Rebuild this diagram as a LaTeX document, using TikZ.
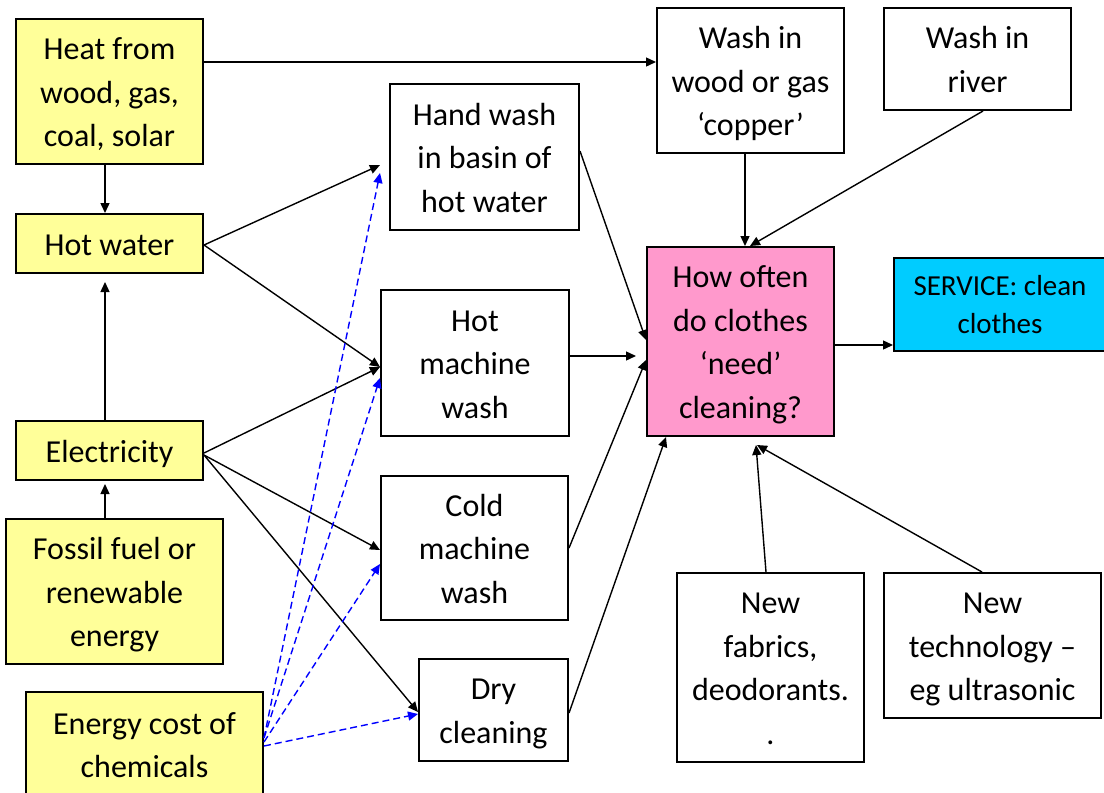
\documentclass[tikz,border=0pt]{standalone}
\usepackage{fontspec}
\setmainfont{Carlito}
\usetikzlibrary{arrows.meta}
\definecolor{boxyellow}{RGB}{255,255,153}
\definecolor{boxpink}{RGB}{255,153,204}
\definecolor{boxcyan}{RGB}{0,204,255}
\newcommand\ls{\rule[-0.23em]{0pt}{1.18em}}
\begin{document}
\begin{tikzpicture}[x=1pt,y=-1pt,
  box/.style={draw=black,line width=2pt,inner sep=0pt,align=center,font=\fontsize{32}{43.5}\selectfont},
  ybox/.style={box,fill=boxyellow},
  arr/.style={line width=1.4pt,-{Triangle[length=10pt,width=9pt]}},
  darr/.style={line width=1.4pt,draw=blue,dash pattern=on 7pt off 4pt,-{Triangle[length=10pt,width=9pt]}}]
\useasboundingbox (0,0) rectangle (1104,793);
% left column
\node[ybox,minimum width=187pt,minimum height=145pt] (heat) at (109.5,91.5) {\ls Heat from\\wood, gas,\\coal, solar\ls};
\node[ybox,minimum width=187pt,minimum height=59pt] (hotwater) at (109.5,243.5) {\ls Hot water\ls};
\node[ybox,minimum width=187pt,minimum height=59pt] (elec) at (109.5,450.5) {\ls Electricity\ls};
\node[ybox,minimum width=217pt,minimum height=145pt] (fossil) at (114.5,591.5) {\ls Fossil fuel or\\renewable\\energy\ls};
\node[ybox,minimum width=237pt,minimum height=105pt] (energy) at (144.5,744.5) {\ls Energy cost of\\chemicals\ls};
% middle column
\node[box,minimum width=189pt,minimum height=146pt] (hand) at (484.5,157) {\ls Hand wash\\in basin of\\hot water\ls};
\node[box,minimum width=188pt,minimum height=146pt] (hotm) at (475,363) {\ls Hot\\machine\\wash\ls};
\node[box,minimum width=187pt,minimum height=144pt] (coldm) at (474.5,548) {\ls Cold\\machine\\wash\ls};
\node[box,minimum width=149pt,minimum height=102pt] (dry) at (493.5,710) {\ls Dry\\cleaning\ls};
% right part
\node[box,minimum width=187pt,minimum height=145pt] (wood) at (750.5,80.5) {\ls Wash in\\wood or gas\\‘copper’\ls};
\node[box,minimum width=187pt,minimum height=102pt] (river) at (977.5,59) {\ls Wash in\\river\ls};
\node[box,fill=boxpink,minimum width=187pt,minimum height=189pt] (pink) at (740.5,341.5) {\ls How often\\do clothes\\‘need’\\cleaning?\ls};
\node[box,fill=boxcyan,minimum width=212pt,minimum height=93pt,font=\fontsize{29}{38}\selectfont] (service) at (1000,304.5) {\ls SERVICE: clean\\clothes\ls};
\node[box,minimum width=187pt,minimum height=189pt] (fabrics) at (770.5,667.5) {\ls New\\fabrics,\\deodorants.\\.\ls};
\node[box,minimum width=217pt,minimum height=145pt] (tech) at (992.5,645.5) {\ls New\\technology –\\eg ultrasonic\ls};
% vertical arrows on the left
\draw[arr] (heat.south -| 105,0) -- (hotwater.north -| 105,0);
\draw[arr,shorten >=8pt] (elec.north -| 105,0) -- (hotwater.south -| 105,0);
\draw[arr,shorten >=3pt] (fossil.north -| 105,0) -- (elec.south -| 105,0);
% heat to wood copper
\draw[arr] (heat.east |- 0,62) -- (wood.west |- 0,62);
% hot water and electricity to washing methods
\draw[arr,shorten >=10pt] (hotwater.east |- 0,245) -- (hand.west |- 0,161);
\draw[arr] (hotwater.east |- 0,245) -- (hotm.west |- 0,367);
\draw[arr] (elec.east |- 0,453) -- (hotm.west |- 0,367);
\draw[arr] (elec.east |- 0,455) -- (coldm.west |- 0,550);
\draw[arr] (elec.east |- 0,455) -- (dry.west |- 0,712);
% chemicals (dashed blue)
\coordinate (ec) at (energy.east |- 0,738);
\draw[darr] (ec) -- (hotm.west |- 0,173);
\draw[darr] (ec) -- (hotm.west |- 0,378);
\draw[darr] (energy.east |- 0,742) -- (coldm.west |- 0,564);
\draw[darr] (energy.east |- 0,746) -- (dry.west |- 0,714);
% into the pink box
\draw[arr] (hand.east |- 0,151) -- (pink.west |- 0,340);
\draw[arr,shorten >=10pt] (hotm.east |- 0,356) -- (pink.west |- 0,356);
\draw[arr] (coldm.east |- 0,548) -- (pink.west |- 0,360);
\draw[arr] (dry.east |- 0,713) -- (pink.south -| 666,0);
\draw[arr] (wood.south -| 745,0) -- (pink.north -| 745,0);
\draw[arr] (river.south -| 983,0) -- (pink.north -| 750,0);
\draw[arr] (pink.east |- 0,345) -- (service.west |- 0,345);
\draw[arr] (fabrics.north -| 766,0) -- (756,445);
\draw[arr] (tech.north -| 982,0) -- (757,445);
\end{tikzpicture}
\end{document}
